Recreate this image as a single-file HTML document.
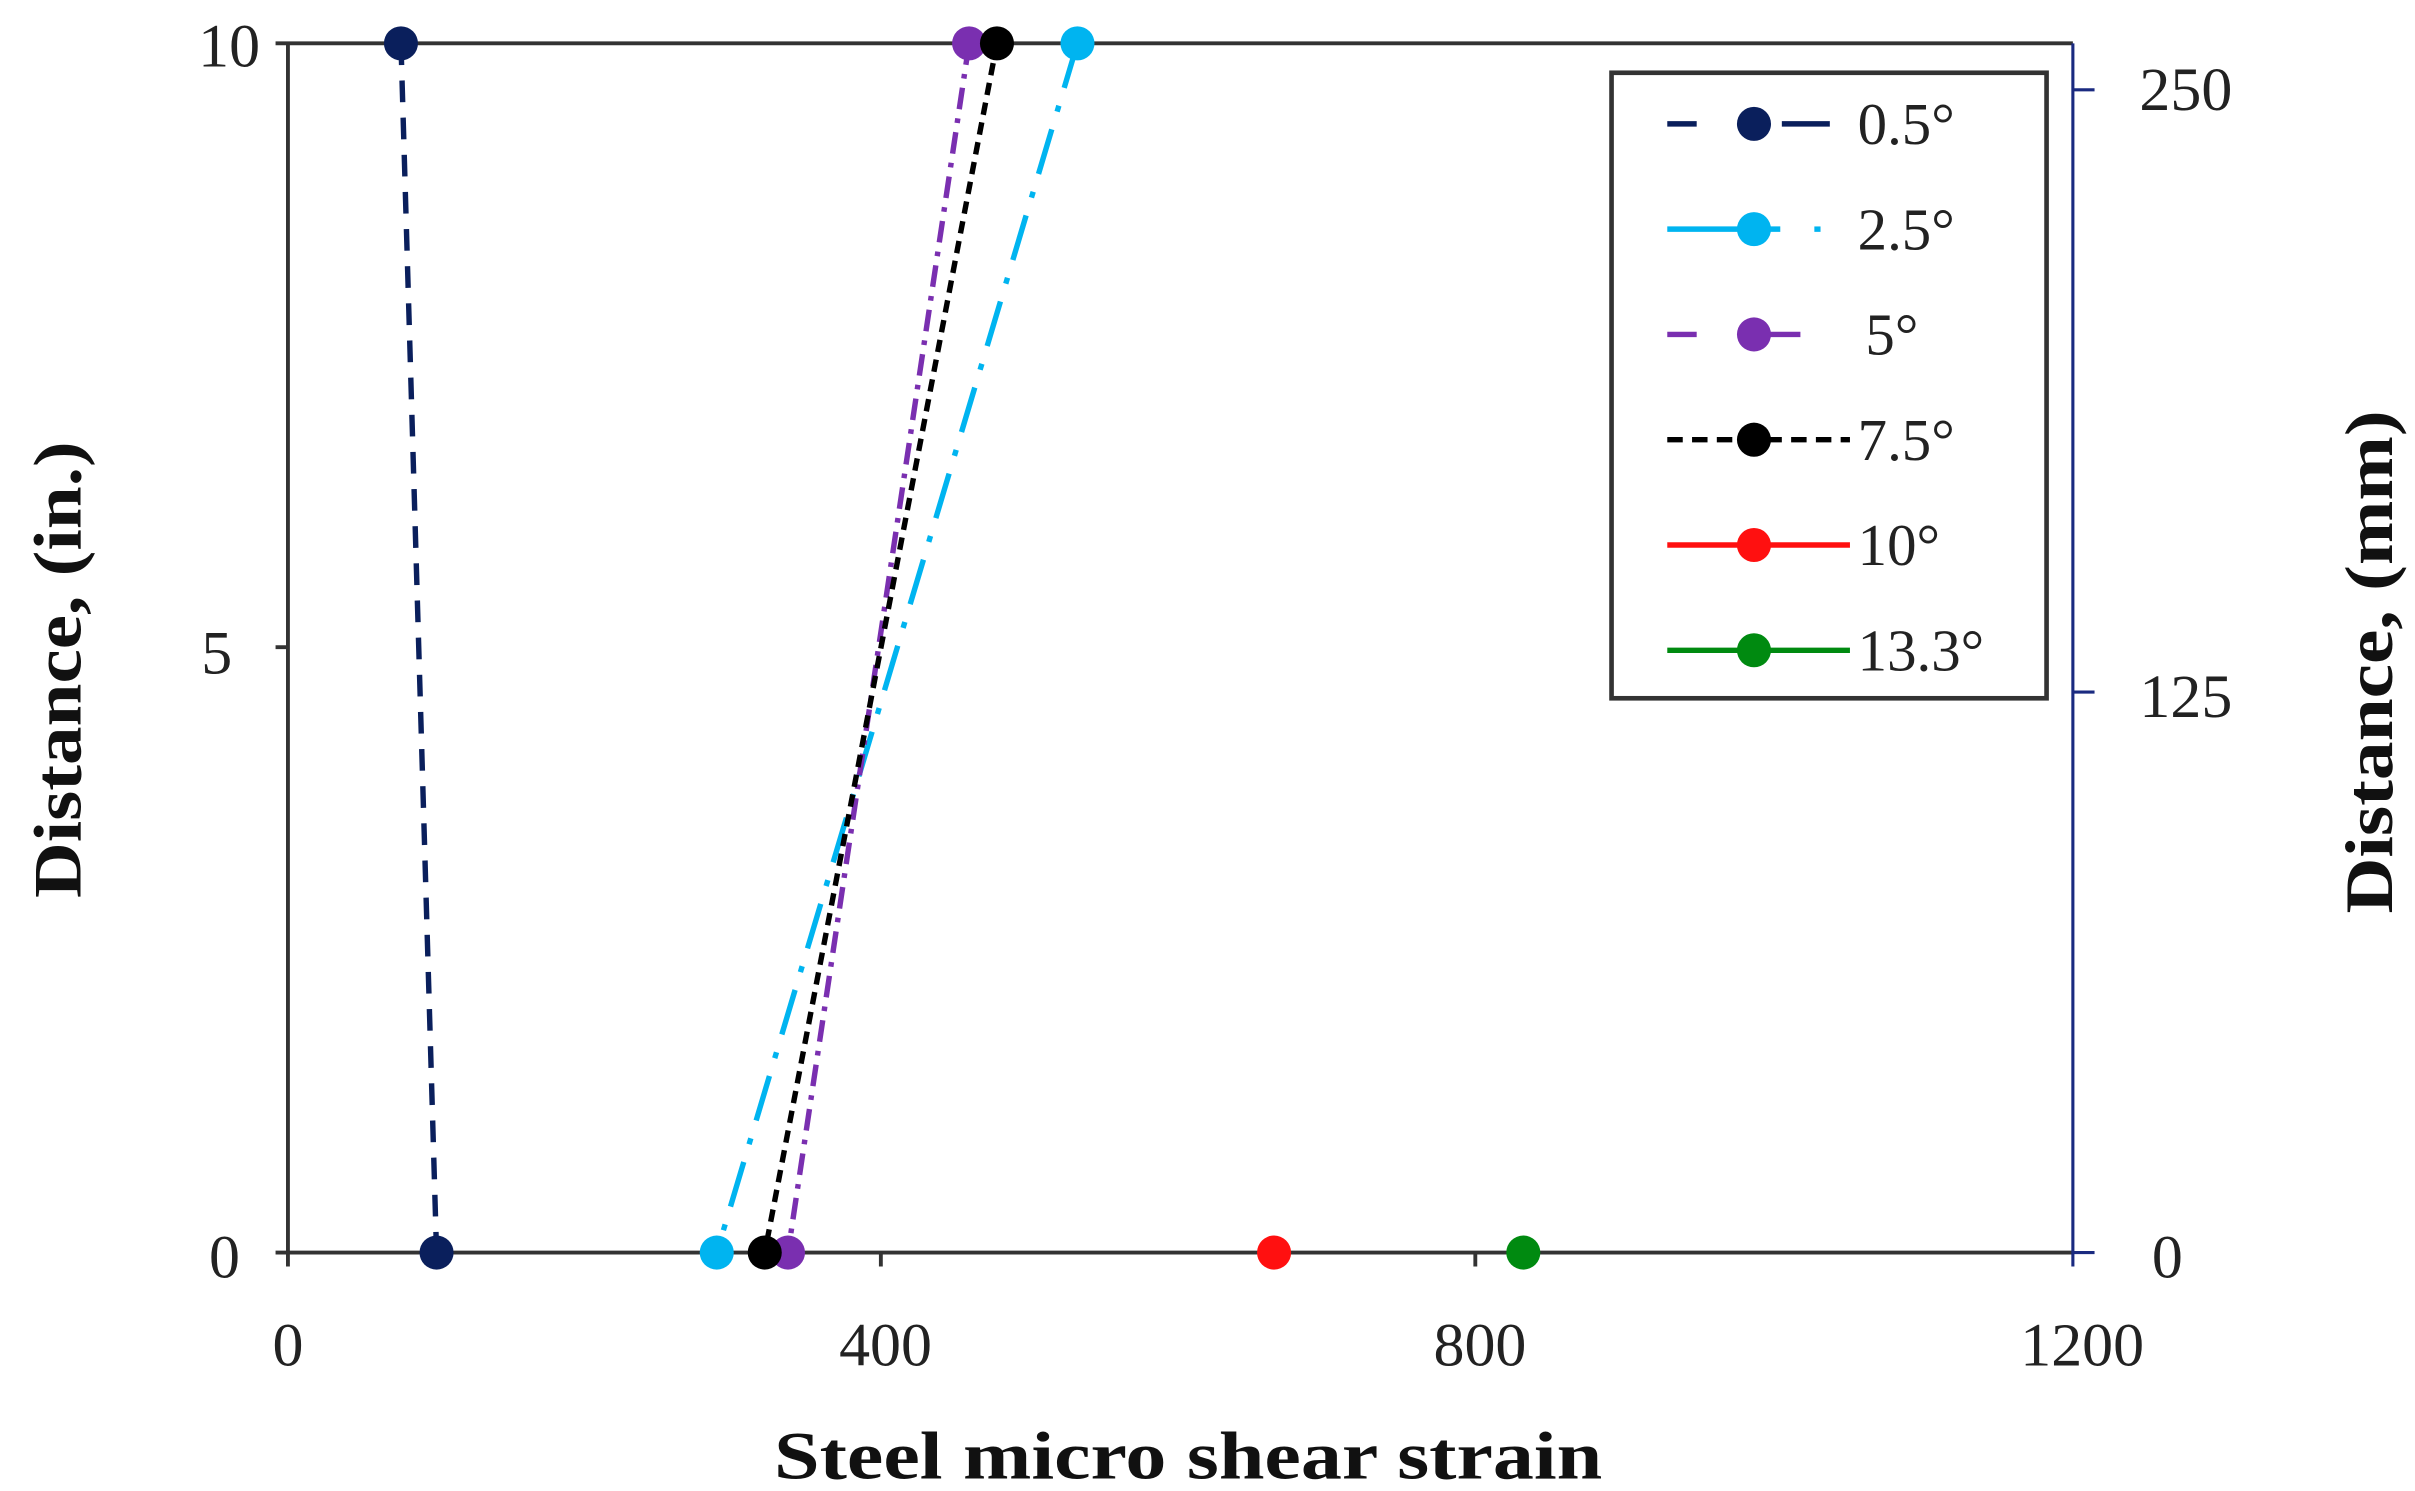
<!DOCTYPE html>
<html><head><style>html,body{margin:0;padding:0;background:#fff}svg{display:block}</style></head>
<body>
<svg width="2415" height="1491" viewBox="0 0 1560 963" preserveAspectRatio="none" xmlns="http://www.w3.org/2000/svg" font-family="Liberation Serif, serif">
<rect width="1560" height="963" fill="#fff"/>
<line x1="178" y1="28" x2="1339" y2="28" stroke="#333" stroke-width="2.5"/>
<line x1="178" y1="809" x2="1339" y2="809" stroke="#333" stroke-width="2.5"/>
<line x1="186" y1="28" x2="186" y2="818" stroke="#333" stroke-width="2.5"/>
<line x1="178" y1="418" x2="186" y2="418" stroke="#333" stroke-width="2.5"/>
<line x1="569" y1="809" x2="569" y2="818" stroke="#333" stroke-width="2.5"/>
<line x1="953" y1="809" x2="953" y2="818" stroke="#333" stroke-width="2.5"/>
<line x1="1339" y1="28" x2="1339" y2="818" stroke="#1a2a80" stroke-width="2"/>
<line x1="1339" y1="58" x2="1353" y2="58" stroke="#1a2a80" stroke-width="2"/>
<line x1="1339" y1="447" x2="1353" y2="447" stroke="#1a2a80" stroke-width="2"/>
<line x1="1339" y1="809" x2="1353" y2="809" stroke="#1a2a80" stroke-width="2"/>
<g font-size="40" fill="#222">
<text x="168" y="43" text-anchor="end">10</text>
<text x="150" y="435" text-anchor="end">5</text>
<text x="155" y="825" text-anchor="end">0</text>
<text x="186" y="882" text-anchor="middle">0</text>
<text x="572" y="882" text-anchor="middle">400</text>
<text x="956" y="882" text-anchor="middle">800</text>
<text x="1345" y="882" text-anchor="middle">1200</text>
<text x="1382" y="71">250</text>
<text x="1382" y="463">125</text>
<text x="1390" y="825">0</text>
</g>
<text x="500" y="955" textLength="535" lengthAdjust="spacingAndGlyphs" font-size="44" font-weight="bold" fill="#111">Steel micro  shear strain</text>
<text transform="translate(52,580) rotate(-90)" textLength="295" lengthAdjust="spacingAndGlyphs" font-size="44" font-weight="bold" fill="#111">Distance, (in.)</text>
<text transform="translate(1545,590) rotate(-90)" textLength="325" lengthAdjust="spacingAndGlyphs" font-size="44" font-weight="bold" fill="#111">Distance, (mm)</text>
<g stroke-width="3.5" fill="none">
<line x1="259" y1="28" x2="282" y2="809" stroke="#0a1f5c" stroke-dasharray="14 10"/>
<line x1="696" y1="28" x2="463" y2="809" stroke="#00b4f0" stroke-dasharray="30 12 4 12"/>
<line x1="626" y1="28" x2="509" y2="809" stroke="#7a2fb0" stroke-dasharray="14 6 3 6"/>
<line x1="644" y1="28" x2="494" y2="809" stroke="#000" stroke-dasharray="8 5"/>
</g>
<circle cx="259" cy="28" r="11" fill="#0a1f5c"/>
<circle cx="282" cy="809" r="11" fill="#0a1f5c"/>
<circle cx="463" cy="809" r="11" fill="#00b4f0"/>
<circle cx="509" cy="809" r="11" fill="#7a2fb0"/>
<circle cx="494" cy="809" r="11" fill="#000"/>
<circle cx="626" cy="28" r="11" fill="#7a2fb0"/>
<circle cx="644" cy="28" r="11" fill="#000"/>
<circle cx="696" cy="28" r="11" fill="#00b4f0"/>
<circle cx="823" cy="809" r="11" fill="#ff1010"/>
<circle cx="984" cy="809" r="11" fill="#008a10"/>
<rect x="1041" y="47" width="281" height="404" fill="#fff" stroke="#333" stroke-width="3"/>
<g stroke-width="3.5">
<line x1="1077" y1="80" x2="1096" y2="80" stroke="#0a1f5c"/><line x1="1151" y1="80" x2="1182" y2="80" stroke="#0a1f5c"/>
<line x1="1077" y1="148" x2="1150" y2="148" stroke="#00b4f0"/><line x1="1172" y1="148" x2="1176" y2="148" stroke="#00b4f0"/>
<line x1="1077" y1="216" x2="1096" y2="216" stroke="#7a2fb0"/><line x1="1130" y1="216" x2="1163" y2="216" stroke="#7a2fb0"/>
<line x1="1077" y1="284" x2="1195" y2="284" stroke="#000" stroke-dasharray="10 6"/>
<line x1="1077" y1="352" x2="1195" y2="352" stroke="#ff1010"/>
<line x1="1077" y1="420" x2="1195" y2="420" stroke="#008a10"/>
</g>
<circle cx="1133" cy="80" r="11" fill="#0a1f5c"/>
<circle cx="1133" cy="148" r="11" fill="#00b4f0"/>
<circle cx="1133" cy="216" r="11" fill="#7a2fb0"/>
<circle cx="1133" cy="284" r="11" fill="#000"/>
<circle cx="1133" cy="352" r="11" fill="#ff1010"/>
<circle cx="1133" cy="420" r="11" fill="#008a10"/>
<g font-size="38" fill="#222">
<text x="1200" y="93">0.5°</text>
<text x="1200" y="161">2.5°</text>
<text x="1205" y="229">5°</text>
<text x="1200" y="297">7.5°</text>
<text x="1200" y="365">10°</text>
<text x="1200" y="433">13.3°</text>
</g>
</svg>
</body></html>
